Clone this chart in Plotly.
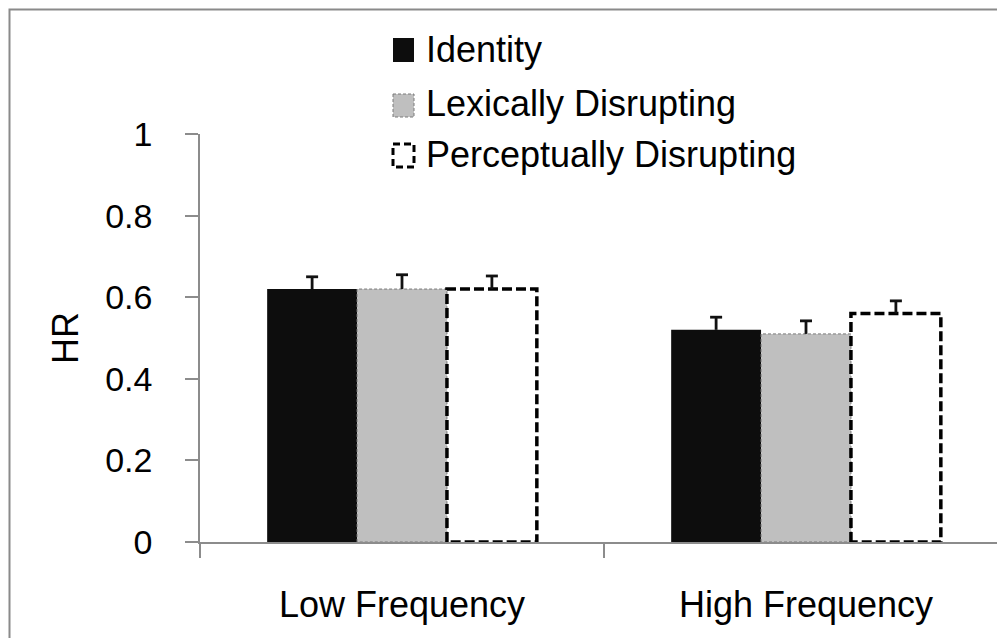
import numpy as np
import plotly.graph_objects as go

# ---------------- data ----------------
categories = ["Low Frequency", "High Frequency"]
series_names = ["Identity", "Lexically Disrupting", "Perceptually Disrupting"]
identity = [0.62, 0.52]
lexical = [0.62, 0.51]
perceptual = [0.62, 0.56]
identity_err = [0.030, 0.031]
lexical_err = [0.035, 0.032]
perceptual_err = [0.032, 0.031]
y_ticks = [0, 0.2, 0.4, 0.6, 0.8, 1]
y_tick_labels = ["0", "0.2", "0.4", "0.6", "0.8", "1"]

# ---------------- layout constants ----------------
W, H = 997, 638
ML, MR, MT, MB = 200, 0, 134, 96
PW, PH = W - ML - MR, H - MT - MB
UNIT_X = 404.0  # pixels per category
FONT = "Liberation Sans, Arial, sans-serif"
AXIS_GREY = "#8c8c8c"


def pxx(p):
    return (p - ML) / PW


def pxy(p):
    return (H - MB - p) / PH


idx = np.arange(len(categories))
centers = idx + 0.5
bw = 0.2225
offsets = [-bw, 0.0, bw]
cap_half = 6.0 / UNIT_X

fig = go.Figure()

fills = ["#0d0d0d", "#bfbfbf", "#ffffff"]
values = [identity, lexical, perceptual]
errors = [identity_err, lexical_err, perceptual_err]

for name, vals, col, off in zip(series_names, values, fills, offsets):
    fig.add_trace(go.Bar(
        x=centers + off, y=vals, width=bw, name=name,
        marker=dict(color=col, line=dict(width=0)),
        showlegend=False,
    ))


def outline(vals, off):
    xs, ys = [], []
    for c, v in zip(centers, vals):
        x0, x1 = c + off - bw / 2, c + off + bw / 2
        xs += [x0, x0, x1, x1, x0, None]
        ys += [0, v, v, 0, 0, None]
    return xs, ys


# dashed outline of the grey bars
gx, gy = outline(lexical, offsets[1])
fig.add_trace(go.Scatter(x=gx, y=gy, mode="lines", hoverinfo="skip",
                         line=dict(color="#7a7a7a", width=1, dash="3px,2px"),
                         showlegend=False))
# dashed outline of the white bars
wx, wy = outline(perceptual, offsets[2])
fig.add_trace(go.Scatter(x=wx, y=wy, mode="lines", hoverinfo="skip",
                         line=dict(color="#000000", width=3.5, dash="10px,4px"),
                         showlegend=False))

# upward-only error bars (T shape)
for vals, errs, off in zip(values, errors, offsets):
    ex, ey = [], []
    for c, v, e in zip(centers, vals, errs):
        x = c + off
        ex += [x, x, None, x - cap_half, x + cap_half, None]
        ey += [v, v + e, None, v + e, v + e, None]
    fig.add_trace(go.Scatter(x=ex, y=ey, mode="lines", hoverinfo="skip",
                             line=dict(color="#111111", width=2.8),
                             showlegend=False))

# ---------------- manual legend ----------------
shapes = []
annotations = []
legend_rows = [
    dict(y0=38, y1=62, fill="#0d0d0d", line=dict(width=0), text_y=49),
    dict(y0=94, y1=117, fill="#bfbfbf", line=dict(color="#7a7a7a", width=1, dash="3px,2px"), text_y=103),
    dict(y0=144, y1=167, fill="#ffffff", line=dict(color="#000000", width=3, dash="7px,4px"), text_y=154),
]
for name, row in zip(series_names, legend_rows):
    shapes.append(dict(type="rect", xref="paper", yref="paper",
                       x0=pxx(393), x1=pxx(414), y0=pxy(row["y0"]), y1=pxy(row["y1"]),
                       fillcolor=row["fill"], line=row["line"], layer="above"))
    annotations.append(dict(xref="paper", yref="paper", x=pxx(424), y=pxy(row["text_y"]),
                            xanchor="left", yanchor="middle", text=name, showarrow=False,
                            font=dict(family=FONT, size=36, color="#000000")))

# outer frame
shapes.append(dict(type="rect", xref="paper", yref="paper",
                   x0=pxx(9.5), x1=pxx(1020), y0=pxy(9.5), y1=pxy(660),
                   line=dict(color="#8a8a8a", width=2), fillcolor="rgba(0,0,0,0)",
                   layer="below"))

fig.update_layout(
    width=W, height=H,
    margin=dict(l=ML, r=MR, t=MT, b=MB, pad=0),
    paper_bgcolor="#ffffff", plot_bgcolor="#ffffff",
    barmode="overlay",
    font=dict(family=FONT, size=34, color="#000000"),
    shapes=shapes, annotations=annotations,
    xaxis=dict(range=[0, PW / UNIT_X], showgrid=False, zeroline=False,
               showline=True, linecolor=AXIS_GREY, linewidth=1.5,
               tickmode="array", tickvals=list(centers), ticktext=categories,
               ticks="", tickfont=dict(size=36), ticklabelstandoff=30,
               minor=dict(tickmode="array", tickvals=[0, 1, 2], ticks="outside",
                          ticklen=14, tickwidth=1.5, tickcolor=AXIS_GREY)),
    yaxis=dict(range=[0, 1], showgrid=False, zeroline=False,
               showline=True, linecolor=AXIS_GREY, linewidth=1.5,
               tickmode="array", tickvals=y_ticks, ticktext=y_tick_labels,
               ticks="outside", ticklen=13, tickwidth=1.5, tickcolor=AXIS_GREY,
               tickfont=dict(size=34), ticklabelstandoff=26,
               title=dict(text="HR", font=dict(size=36), standoff=16)),
)

fig.write_html("out.html")
